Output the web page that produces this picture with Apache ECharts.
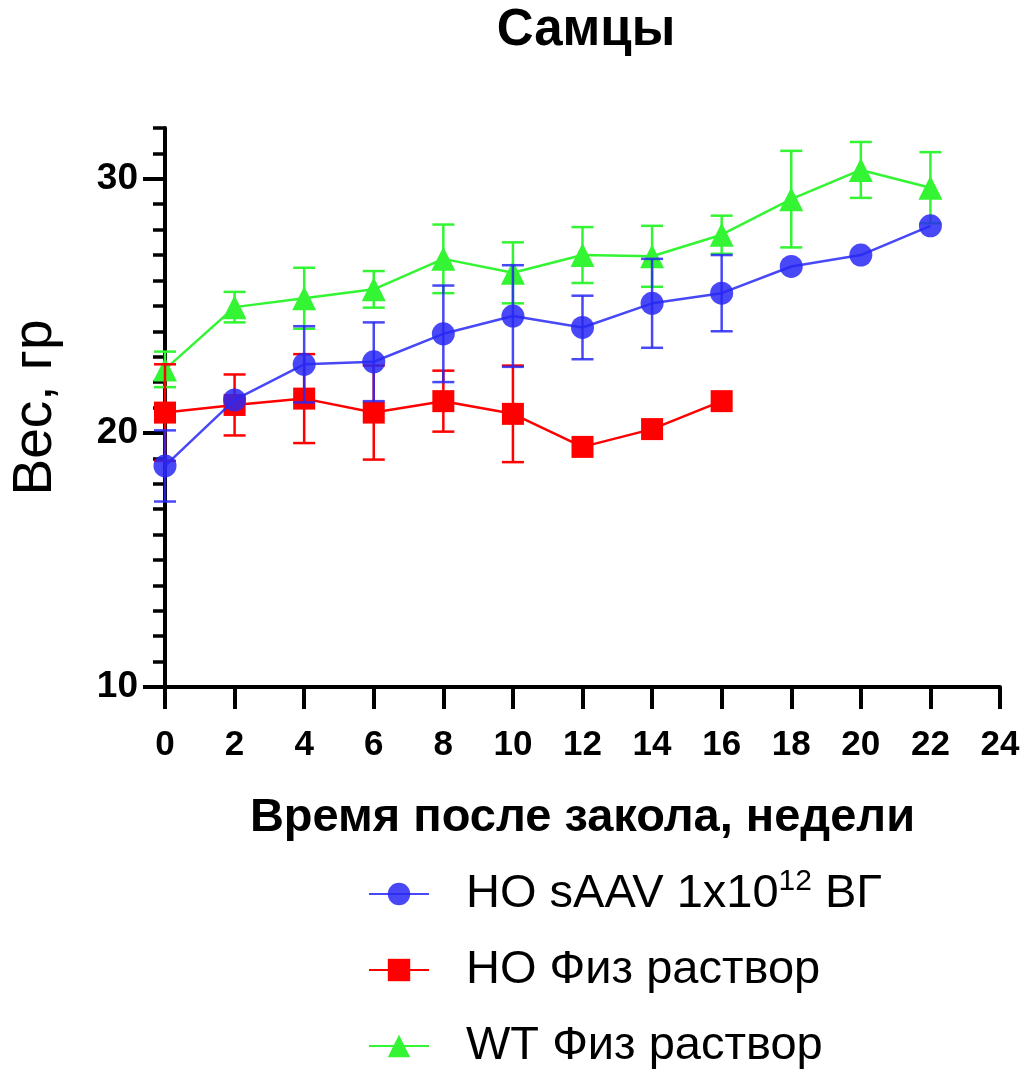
<!DOCTYPE html>
<html><head><meta charset="utf-8">
<script src="https://cdn.jsdelivr.net/npm/echarts@6/dist/echarts.min.js"></script>
<style>html,body{margin:0;padding:0;background:#fff}#c{width:1030px;height:1072px}</style>
</head><body><div id="c"></div>
<script>
const weeks = [0,2,4,6,8,10,12,14,16,18,20,22];
const xTicks = [0,2,4,6,8,10,12,14,16,18,20,22,24];
const yTicks = [10,20,30];
const names = ['HO sAAV 1x10{sup|12} ВГ', 'HO Физ раствор', 'WT Физ раствор'];
const blueMean = [18.7,21.3,22.7,22.8,23.9,24.6,24.15,25.1,25.5,26.55,27.0,28.15];
const blueErr  = [1.4,null,1.5,1.55,1.9,2.0,1.25,1.75,1.5,null,null,null];
const redMean  = [20.8,21.1,21.35,20.8,21.25,20.75,19.45,20.15,21.25];
const redErr   = [1.9,1.2,1.75,1.85,1.2,1.9,null,null,null];
const greenMean= [22.5,24.95,25.3,25.65,26.85,26.3,27.0,26.95,27.8,29.2,30.35,29.65];
const greenErr = [0.7,0.6,1.2,0.72,1.35,1.2,1.1,1.2,0.75,1.9,1.1,1.4];

const NARROW = '"Liberation Sans Narrow","Arial Narrow","Liberation Sans",sans-serif';
const REG = '"Liberation Sans",Arial,sans-serif';

function pts(mean){ return mean.map((v,i)=>[weeks[i], v]); }
function errData(mean, err){
  const out=[];
  mean.forEach((v,i)=>{ if(err[i]!=null) out.push([weeks[i], v-err[i], v+err[i]]); });
  return out;
}
function errSeries(mean, err, color, z){
  return {
    type:'custom', z:z, silent:true,
    data: errData(mean, err),
    encode:{x:0,y:[1,2]},
    renderItem:function(params, api){
      const x = api.value(0);
      const lo = api.coord([x, api.value(1)]);
      const hi = api.coord([x, api.value(2)]);
      const w = 11;
      const st = {stroke:color, lineWidth:2.5};
      return {type:'group', children:[
        {type:'line', shape:{x1:lo[0],y1:lo[1],x2:hi[0],y2:hi[1]}, style:st},
        {type:'line', shape:{x1:lo[0]-w,y1:lo[1],x2:lo[0]+w,y2:lo[1]}, style:st},
        {type:'line', shape:{x1:hi[0]-w,y1:hi[1],x2:hi[0]+w,y2:hi[1]}, style:st}
      ]};
    }
  };
}
const BLUE='rgba(40,40,245,0.85)', RED='#ff0000', GREEN='#33f533';

const chart = echarts.init(document.getElementById('c'), null, {renderer:'canvas'});
chart.setOption({
  animation:false,
  backgroundColor:'#fff',
  title:{text:'Самцы', left:581, top:0, textAlign:'center',
    textStyle:{fontSize:51, fontWeight:'bold', fontFamily:REG, color:'#000'}},
  grid:{left:162, top:128, width:838, height:559, containLabel:false},
  xAxis:{type:'value', min:0, max:24, interval:2,
    axisLine:{show:true, lineStyle:{color:'#000', width:4}},
    axisTick:{show:true, length:22, lineStyle:{color:'#000', width:4}},
    axisLabel:{fontSize:35, fontWeight:'bold', fontFamily:NARROW, color:'#000', margin:41,
      customValues: xTicks},
    splitLine:{show:false},
    name:'Время после закола, недели', nameLocation:'middle', nameGap:108,
    nameTextStyle:{fontSize:47, fontWeight:'bold', fontFamily:NARROW, color:'#000'}},
  yAxis:[
    {type:'value', min:10, max:32, interval:10, position:'left',
      axisLine:{show:true, lineStyle:{color:'#000', width:4}},
      axisTick:{show:true, length:22, lineStyle:{color:'#000', width:4}, customValues: yTicks},
      axisLabel:{fontSize:37, fontWeight:'bold', fontFamily:REG, color:'#000', margin:27, customValues: yTicks},
      splitLine:{show:false},
      name:'Вес, гр', nameLocation:'middle', nameGap:102, nameRotate:90,
      nameTextStyle:{fontSize:55, fontFamily:REG, color:'#000'}},
    {type:'value', min:10, max:32, interval:1, position:'left',
      axisLine:{show:false},
      axisTick:{show:true, length:12, lineStyle:{color:'#000', width:3.5}},
      axisLabel:{show:false}, splitLine:{show:false}}
  ],
  legend:{orient:'vertical', left:363, top:862, itemWidth:60, itemHeight:28, itemGap:22, height:210,
    textStyle:{fontSize:47, fontFamily:REG, color:'#000', padding:[0,0,0,32], lineHeight:54,
      rich:{sup:{fontSize:30, fontFamily:REG, color:'#000', lineHeight:54, padding:[0,0,24,0]}}},
    data:[names[0], names[1], names[2]],
    formatter:function(n){return n;}
  },
  series:[
    errSeries(greenMean, greenErr, GREEN, 1),
    {type:'line', name:names[2], data:pts(greenMean), z:2, symbol:'triangle', symbolSize:24,
      lineStyle:{color:GREEN, width:2.5}, itemStyle:{color:GREEN}, yAxisIndex:0},
    errSeries(redMean, redErr, RED, 3),
    {type:'line', name:names[1], data:pts(redMean), z:4, symbol:'rect', symbolSize:22,
      lineStyle:{color:RED, width:2.5}, itemStyle:{color:RED}, yAxisIndex:0},
    errSeries(blueMean, blueErr, BLUE, 5),
    {type:'line', name:names[0], data:pts(blueMean), z:6, symbol:'circle', symbolSize:23,
      lineStyle:{color:BLUE, width:2.5}, itemStyle:{color:BLUE}, yAxisIndex:0}
  ]
});
</script></body></html>
